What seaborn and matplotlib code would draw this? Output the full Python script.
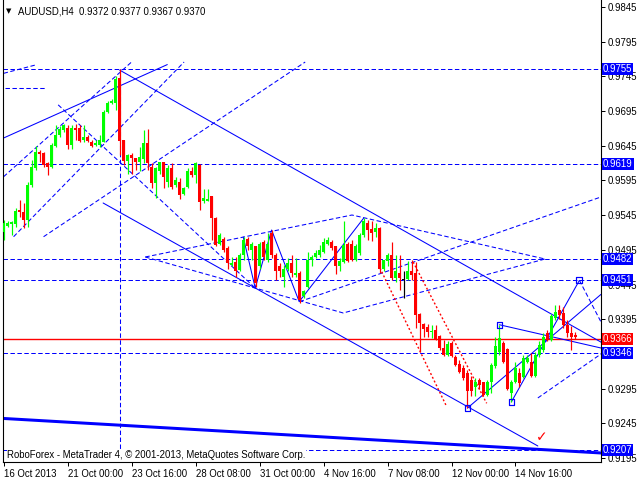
import matplotlib
matplotlib.use("Agg")
import matplotlib.pyplot as plt
import matplotlib.transforms as mtransforms
import numpy as np
import pandas as pd
import seaborn as sns

# ---------------- data ----------------
opens = [0.9521,0.9530,0.9532,0.9532,0.9552,0.9550,0.9538,0.9588,0.9613,0.9636,
         0.9634,0.9620,0.9614,0.9644,0.9661,0.9668,0.9671,0.9646,0.9670,0.9670,
         0.9653,0.9658,0.9651,0.9646,0.9646,0.9651,0.9693,0.9706,0.9706,0.9742,
         0.9653,0.9623,0.9632,0.9627,0.9622,0.9626,0.9649,0.9615,0.9591,0.9608,
         0.9621,0.9593,0.9613,0.9589,0.9593,0.9576,0.9586,0.9608,0.9603,0.9617,
         0.9565,0.9566,0.9572,0.9541,0.9504,0.9510,0.9497,0.9473,0.9478,0.9466,
         0.9488,0.9510,0.9495,0.9500,0.9471,0.9507,0.9480,0.9519,0.9488,0.9471,
         0.9456,0.9468,0.9476,0.9459,0.9461,0.9428,0.9441,0.9480,0.9485,0.9488,
         0.9492,0.9504,0.9507,0.9500,0.9472,0.9478,0.9504,0.9504,0.9480,0.9490,
         0.9516,0.9534,0.9525,0.9520,0.9526,0.9468,0.9479,0.9488,0.9454,0.9462,
         0.9452,0.9453,0.9465,0.9462,0.9403,0.9388,0.9384,0.9376,0.9380,0.9371,
         0.9353,0.9344,0.9360,0.9341,0.9330,0.9324,0.9317,0.9308,0.9298,0.9308,
         0.9304,0.9286,0.9305,0.9327,0.9348,0.9360,0.9352,0.9288,0.9304,0.9317,
         0.9312,0.9334,0.9334,0.9313,0.9344,0.9351,0.9375,0.9365,0.9397,0.9408,
         0.9404,0.9387,0.9375,0.9372]
highs = [0.9538,0.9537,0.9537,0.9555,0.9567,0.9562,0.9593,0.9624,0.9645,0.9639,
         0.9636,0.9622,0.9649,0.9675,0.9673,0.9676,0.9675,0.9675,0.9677,0.9675,
         0.9675,0.9661,0.9653,0.9653,0.9661,0.9697,0.9710,0.9712,0.9745,0.9755,
         0.9654,0.9633,0.9634,0.9628,0.9643,0.9668,0.9669,0.9620,0.9615,0.9622,
         0.9622,0.9617,0.9620,0.9600,0.9598,0.9585,0.9613,0.9615,0.9622,0.9619,
         0.9582,0.9582,0.9573,0.9542,0.9519,0.9514,0.9500,0.9485,0.9485,0.9490,
         0.9514,0.9513,0.9507,0.9501,0.9507,0.9509,0.9519,0.9524,0.9490,0.9476,
         0.9473,0.9483,0.9488,0.9483,0.9464,0.9437,0.9492,0.9488,0.9495,0.9502,
         0.9512,0.9513,0.9509,0.9501,0.9483,0.9536,0.9507,0.9509,0.9504,0.9519,
         0.9541,0.9538,0.9536,0.9533,0.9528,0.9481,0.9490,0.9507,0.9488,0.9488,
         0.9465,0.9479,0.9480,0.9478,0.9404,0.9389,0.9388,0.9387,0.9387,0.9372,
         0.9365,0.9363,0.9363,0.9344,0.9336,0.9329,0.9322,0.9313,0.9310,0.9310,
         0.9305,0.9308,0.9332,0.9370,0.9387,0.9363,0.9353,0.9308,0.9334,0.9324,
         0.9344,0.9344,0.9346,0.9348,0.9363,0.9375,0.9380,0.9402,0.9416,0.9416,
         0.9413,0.9394,0.9385,0.9377]
lows = [0.9509,0.9528,0.9516,0.9528,0.9543,0.9526,0.9528,0.9586,0.9610,0.9622,
        0.9615,0.9603,0.9613,0.9643,0.9658,0.9665,0.9640,0.9641,0.9653,0.9651,
        0.9651,0.9651,0.9643,0.9645,0.9643,0.9651,0.9692,0.9705,0.9697,0.9632,
        0.9617,0.9605,0.9605,0.9610,0.9608,0.9620,0.9610,0.9584,0.9569,0.9605,
        0.9584,0.9586,0.9582,0.9586,0.9568,0.9574,0.9584,0.9600,0.9591,0.9552,
        0.9562,0.9565,0.9509,0.9501,0.9502,0.9492,0.9468,0.9472,0.9456,0.9464,
        0.9480,0.9495,0.9480,0.9442,0.9468,0.9480,0.9478,0.9483,0.9452,0.9456,
        0.9442,0.9464,0.9456,0.9456,0.9418,0.9425,0.9440,0.9471,0.9483,0.9485,
        0.9490,0.9502,0.9495,0.9460,0.9465,0.9476,0.9478,0.9479,0.9479,0.9488,
        0.9514,0.9509,0.9508,0.9514,0.9462,0.9465,0.9471,0.9451,0.9449,0.9437,
        0.9425,0.9452,0.9452,0.9382,0.9348,0.9370,0.9370,0.9368,0.9365,0.9351,
        0.9342,0.9342,0.9341,0.9327,0.9317,0.9307,0.9267,0.9284,0.9284,0.9295,
        0.9284,0.9284,0.9288,0.9325,0.9344,0.9332,0.9293,0.9276,0.9303,0.9298,
        0.9310,0.9332,0.9312,0.9312,0.9341,0.9348,0.9363,0.9363,0.9394,0.9396,
        0.9382,0.9370,0.9351,0.9367]
closes = [0.9533,0.9533,0.9535,0.9551,0.9549,0.9538,0.9588,0.9615,0.9636,0.9633,
          0.9617,0.9614,0.9646,0.9661,0.9669,0.9675,0.9646,0.9670,0.9668,0.9652,
          0.9657,0.9652,0.9644,0.9649,0.9653,0.9694,0.9706,0.9710,0.9741,0.9652,
          0.9623,0.9632,0.9627,0.9621,0.9629,0.9649,0.9620,0.9591,0.9613,0.9621,
          0.9600,0.9613,0.9586,0.9596,0.9574,0.9584,0.9608,0.9603,0.9620,0.9564,
          0.9569,0.9568,0.9541,0.9502,0.9516,0.9495,0.9476,0.9476,0.9464,0.9488,
          0.9509,0.9500,0.9503,0.9447,0.9504,0.9485,0.9504,0.9488,0.9464,0.9464,
          0.9468,0.9476,0.9461,0.9462,0.9423,0.9435,0.9480,0.9484,0.9490,0.9495,
          0.9507,0.9509,0.9497,0.9471,0.9479,0.9502,0.9479,0.9480,0.9500,0.9516,
          0.9536,0.9523,0.9519,0.9526,0.9468,0.9480,0.9488,0.9454,0.9464,0.9454,
          0.9452,0.9464,0.9459,0.9401,0.9389,0.9381,0.9376,0.9378,0.9366,0.9353,
          0.9344,0.9359,0.9342,0.9329,0.9319,0.9310,0.9291,0.9291,0.9305,0.9300,
          0.9286,0.9305,0.9329,0.9357,0.9368,0.9334,0.9295,0.9305,0.9324,0.9303,
          0.9339,0.9339,0.9313,0.9344,0.9358,0.9370,0.9365,0.9399,0.9406,0.9401,
          0.9387,0.9375,0.9370,0.9370]

tick_bars = [0, 16, 32, 48, 64, 80, 96, 112, 128]
tick_labels = ["16 Oct 2013", "21 Oct 00:00", "23 Oct 16:00", "28 Oct 08:00",
               "31 Oct 00:00", "4 Nov 16:00", "7 Nov 08:00", "12 Nov 00:00",
               "14 Nov 16:00"]
price_ticks = [0.9845, 0.9795, 0.9745, 0.9695, 0.9645, 0.9595, 0.9545, 0.9495,
               0.9445, 0.9395, 0.9345, 0.9295, 0.9245, 0.9195]
hidden_ticks = [0.9345]   # fully covered by a price box in the original

level_lines = [0.9755, 0.9619, 0.9482, 0.9451, 0.9346, 0.9207]
bid_price = 0.9366
title_text = "AUDUSD,H4  0.9372 0.9377 0.9367 0.9370"
footer_text = "RoboForex - MetaTrader 4, \u00a9 2001-2013, MetaQuotes Software Corp."

# analysis objects: (bar, price) vertices
solid_lines = {
    "chan_up":   [(29.0, 0.9754), (149.4, 0.9362)],
    "chan_dn":   [(24.85, 0.95625), (133.6, 0.92123)],
    "rise_tl":   [(-0.2, 0.96558), (40.9, 0.9762)],
    "zigzag":    [(59.9, 0.95135), (62.9, 0.94400), (67.0, 0.95236), (73.9, 0.94203), (90.0, 0.95405)],
    "fan_a":     [(116.0, 0.9267), (149.4, 0.94308)],
    "fan_b":     [(124.0, 0.9387), (149.4, 0.93535)],
    "fan_c":     [(127.0, 0.9276), (144.0, 0.9451)],
}
thick_line = [(-0.2, 0.92520), (149.4, 0.92022)]
dashed_lines = {
    "short_h":  [(0.4, 0.97283), (10.4, 0.97283)],
    "d2":       [(-0.05, 0.97494), (7.9, 0.97614)],
    "d3":       [(-0.05, 0.96004), (32.05, 0.97662)],
    "d4":       [(2.45, 0.95139), (45.1, 0.97657)],
    "d5":       [(9.95, 0.95139), (75.4, 0.97657)],
    "d6":       [(13.6, 0.97040), (62.9, 0.94400)],
    "vert":     [(29.0, 0.9755), (29.0, 0.9207)],
    "wedge_up": [(35.4, 0.94847), (87.1, 0.95452), (135.4, 0.94818)],
    "wedge_dn": [(35.4, 0.94847), (84.9, 0.94040), (135.4, 0.94818)],
    "long_up":  [(74.0, 0.94203), (149.4, 0.95712)],
    "low_up":   [(133.6, 0.92815), (149.4, 0.93449)],
    "drop":     [(144.0, 0.9451), (149.4, 0.9391)],
}
red_dotted = {
    "r1": [(94.1, 0.94688), (110.8, 0.92689)],
    "r2": [(102.4, 0.94775), (120.8, 0.92738)],
}
squares = [(116, 0.9267), (124, 0.9387), (127, 0.9276), (144, 0.9451)]
check_pos = (134.6, 0.9225)

# ---------------- figure ----------------
sns.set_theme(style="white")
plt.rcParams['font.family'] = ['Liberation Sans', 'DejaVu Sans']
plt.rcParams['lines.scale_dashes'] = False

BLUE = "#0000FF"
GREEN = "#00FF00"
RED = "#FF0000"
PX = 0.72  # one pixel in points at 100 dpi
DASH = (0, (3.2, 1.8))
FS = 6.9

fig = plt.figure(figsize=(6.4, 4.8), dpi=100)
fig.patch.set_facecolor("white")
ax = fig.add_axes([3/640, 18/480, 598/640, 462/480])
ax.set_facecolor("white")
XMIN, XMAX = -0.2, 149.4
YMIN, YMAX = 0.91892, 0.98551
ax.set_xlim(XMIN, XMAX)
ax.set_ylim(YMIN, YMAX)


def seg_frame(d):
    rows = []
    for k, pts in d.items():
        for j, (x, y) in enumerate(pts):
            rows.append({"seg": k, "ord": j, "x": x, "y": y})
    return pd.DataFrame(rows)

# level lines
for lv in level_lines:
    ax.axhline(lv, color=BLUE, lw=PX, ls=DASH, zorder=2, snap=True)
ax.axhline(bid_price, color=RED, lw=1.0, zorder=2, snap=True)

dfs = seg_frame(solid_lines)
sns.lineplot(data=dfs, x="x", y="y", units="seg", estimator=None, sort=False,
             color=BLUE, lw=1.05 * PX, ax=ax, zorder=2)
dft = seg_frame({"thick": thick_line})
sns.lineplot(data=dft, x="x", y="y", units="seg", estimator=None, sort=False,
             color=BLUE, lw=3 * PX, ax=ax, zorder=2)
dfd = seg_frame(dashed_lines)
sns.lineplot(data=dfd, x="x", y="y", units="seg", estimator=None, sort=False,
             color=BLUE, lw=1.05 * PX, ls=DASH, ax=ax, zorder=2)
dfr = seg_frame(red_dotted)
sns.lineplot(data=dfr, x="x", y="y", units="seg", estimator=None, sort=False,
             color=RED, lw=1.4 * PX, ls=(0, (1.4, 1.6)), ax=ax, zorder=2)

sq = np.array(squares)
ax.scatter(sq[:, 0], sq[:, 1], marker="s", s=18, facecolor="none",
           edgecolor=BLUE, linewidth=PX * 1.2, zorder=6)

# candles
o = np.array(opens); h = np.array(highs); l = np.array(lows); c = np.array(closes)
idx = np.arange(len(o))
cols = np.where(c > o, GREEN, np.where(c < o, RED, "#000000"))
ax.vlines(idx, l, h, colors=cols, lw=PX * 1.2, zorder=4)
body_lo = np.minimum(o, c)
body_h = np.abs(c - o)
ax.bar(idx, np.where(body_h == 0, 0.00003, body_h), bottom=body_lo, width=0.8,
       color=cols, linewidth=0, zorder=5)

ax.text(check_pos[0], check_pos[1], "\u2713", color=RED, fontsize=10,
        ha="center", va="center", zorder=6, family="DejaVu Sans")

# axes styling
ax.spines["top"].set_visible(False)
for s in ["left", "bottom", "right"]:
    ax.spines[s].set_color("black")
    ax.spines[s].set_linewidth(PX * 1.1)
ax.yaxis.tick_right()
ax.set_yticks(price_ticks)
ax.set_yticklabels(["" if p in hidden_ticks else f"{p:.4f}" for p in price_ticks])
ax.tick_params(axis="y", which="both", right=True, left=False, length=3,
               width=PX, pad=2, labelsize=FS, colors="black")
ax.set_xticks(tick_bars)
ax.set_xticklabels(tick_labels, ha="left")
ax.tick_params(axis="x", bottom=True, length=3, width=PX, pad=2,
               labelsize=FS, colors="black")
ax.set_xlabel(""); ax.set_ylabel("")
ax.grid(False)

# price boxes on the right
tr = mtransforms.blended_transform_factory(ax.transAxes, ax.transData)
for lv in level_lines:
    ax.text(1.003, lv, f"{lv:.4f}", transform=tr, ha="left", va="center",
            fontsize=FS, color="white", clip_on=False, zorder=10,
            bbox=dict(boxstyle="square,pad=0.1", fc=BLUE, ec="none"))
ax.text(1.003, bid_price, f"{bid_price:.4f}", transform=tr, ha="left", va="center",
        fontsize=FS, color="white", clip_on=False, zorder=10,
        bbox=dict(boxstyle="square,pad=0.1", fc=RED, ec="none"))

# title and footer
ax.text(0.005, 0.975, "\u25bc", transform=ax.transAxes, fontsize=5,
        ha="left", va="center", color="black", family="DejaVu Sans")
ax.text(0.025, 0.975, title_text, transform=ax.transAxes, fontsize=FS,
        ha="left", va="center", color="black")
ax.text(0.007, 0.016, footer_text, transform=ax.transAxes, fontsize=FS,
        ha="left", va="center", color="black", zorder=12,
        bbox=dict(boxstyle="square,pad=0.05", fc="white", ec="none"))

fig.savefig("out.png", dpi=100, facecolor="white")
